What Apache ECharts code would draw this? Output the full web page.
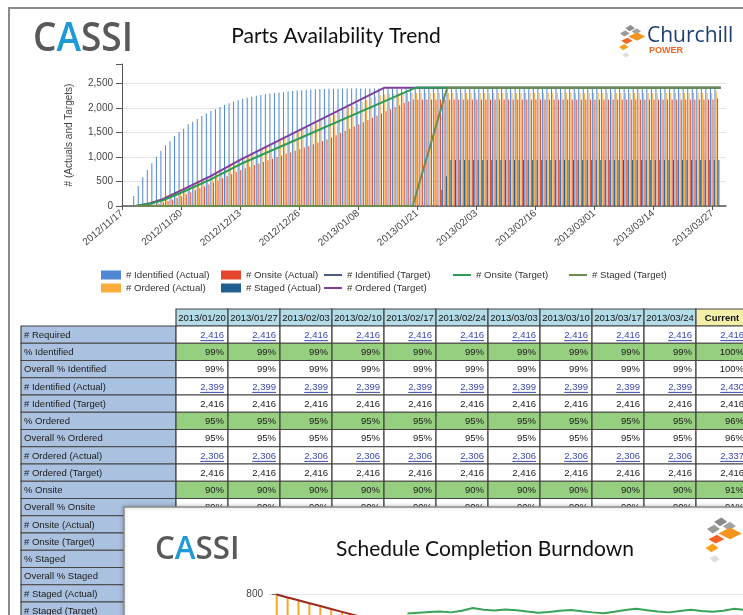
<!DOCTYPE html>
<html>
<head>
<meta charset="utf-8">
<title>Parts Availability Trend</title>
<script src="https://cdn.jsdelivr.net/npm/echarts@6/dist/echarts.min.js"></script>
<style>
  html, body { margin: 0; padding: 0; background: #fff; }
  #chart { width: 743px; height: 615px; }
</style>
</head>
<body>
<div id="chart"></div>
<script>
// x is the day number, day 0 = 2012/11/17 (one bar group per day)
const xTickLabels = ['2012/11/17', '2012/11/30', '2012/12/13', '2012/12/26', '2013/01/08', '2013/01/21',
  '2013/02/03', '2013/02/16', '2013/03/01', '2013/03/14', '2013/03/27']

// actual bars, first value is the day given by the *Start constant
const identifiedStart = 3
const identifiedActual = [
  204, 409, 586, 736, 872, 1008, 1124, 1240, 1321, 1430, 1512, 1580, 1669, 1723, 1778, 1839, 1887, 1941, 1975, 2023,
  2064, 2098, 2132, 2159, 2190, 2210, 2230, 2250, 2268, 2284, 2298, 2310, 2320, 2330, 2340, 2350, 2358, 2365, 2372, 2378,
  2383, 2387, 2391, 2394, 2396, 2397, 2398, 2398, 2399, 2399,
  2399, 2399, 2399, 2399, 2399, 2399, 2399, 2399, 2399, 2399, 2399, 2399, 2399, 2399, 2399, 2399, 2399, 2399, 2399, 2399,
  2399, 2399, 2399, 2399, 2399, 2399, 2399, 2399, 2399, 2399, 2399, 2399, 2399, 2399, 2399, 2399, 2399, 2399, 2399, 2399,
  2399, 2399, 2399, 2399, 2399, 2399, 2399, 2399, 2399, 2399, 2399, 2399, 2399, 2399, 2399, 2399, 2399, 2399, 2399, 2399,
  2399, 2399, 2399, 2399, 2399, 2399, 2399, 2399, 2399, 2399, 2399, 2399, 2399, 2399, 2399, 2399, 2399, 2399, 2430
]
const orderedStart = 4
const orderedActual = [
  15, 40, 70, 105, 140, 180, 220, 260, 300, 340, 385, 430, 475, 520, 565, 610, 655, 700, 745, 790,
  835, 880, 925, 970, 1015, 1060, 1105, 1150, 1195, 1240, 1285, 1330, 1375, 1420, 1465, 1510, 1555, 1600, 1645, 1690,
  1735, 1780, 1825, 1870, 1915, 1960, 2005, 2050, 2090, 2130, 2170, 2205, 2235, 2260, 2280, 2292, 2300, 2304,
  2306, 2306, 2306, 2306, 2306, 2306, 2306, 2306, 2306, 2306, 2306, 2306, 2306, 2306, 2306, 2306, 2306, 2306, 2306, 2306,
  2306, 2306, 2306, 2306, 2306, 2306, 2306, 2306, 2306, 2306, 2306, 2306, 2306, 2306, 2306, 2306, 2306, 2306, 2306, 2306,
  2306, 2306, 2306, 2306, 2306, 2306, 2306, 2306, 2306, 2306, 2306, 2306, 2306, 2306, 2306, 2306, 2306, 2306, 2306, 2306,
  2306, 2306, 2306, 2306, 2306, 2306, 2306, 2306, 2306, 2337
]
const onsiteStart = 6
const onsiteActual = [
  10, 25, 45, 70, 100, 130, 165, 200, 240, 280, 320, 360, 400, 440, 480, 520, 565, 610, 650, 695,
  736, 770, 800, 835, 870, 900, 935, 965, 1000, 1030, 1065, 1095, 1130, 1160, 1195, 1225, 1260, 1290, 1325, 1360,
  1400, 1445, 1490, 1535, 1580, 1625, 1670, 1710, 1755, 1800, 1845, 1890, 1935, 1975, 2020, 2060, 2105, 2140,
  2174, 2174, 2174, 2174, 2174, 2174, 2174, 2174, 2174, 2174, 2174, 2174, 2174, 2174, 2174, 2174, 2174, 2174, 2174, 2174,
  2174, 2174, 2174, 2174, 2174, 2174, 2174, 2174, 2174, 2174, 2174, 2174, 2174, 2174, 2174, 2174, 2174, 2174, 2174, 2174,
  2174, 2174, 2174, 2174, 2174, 2174, 2174, 2174, 2174, 2174, 2174, 2174, 2174, 2174, 2174, 2174, 2174, 2174, 2174, 2174,
  2174, 2174, 2174, 2174, 2174, 2174, 2174, 2199
]
const stagedStart = 70
const stagedActual = [
  330, 610,
  940, 940, 940, 940, 940, 940, 940, 940, 940, 940, 940, 940, 940, 940, 940, 940, 940, 940, 940, 940,
  940, 940, 940, 940, 940, 940, 940, 940, 940, 940, 940, 940, 940, 940, 940, 940, 940, 940, 940, 940,
  940, 940, 940, 940, 940, 940, 940, 940, 940, 940, 940, 940, 940, 940, 940, 940, 940, 940, 940, 940
]

// target lines, [day, value] break points
const identifiedTarget = [[64.7, 2416], [131.8, 2416]]
const orderedTarget = [[3, 0], [6, 50], [9, 140], [13, 320], [19.3, 600], [26, 940], [57.8, 2416], [131.8, 2416]]
const onsiteTarget = [[3, 0], [6, 40], [9, 115], [13, 270], [19.3, 532], [26, 852], [64.7, 2416], [131.8, 2416]]
const stagedTarget = [[3, 0], [64, 0], [71.6, 2416], [131.8, 2416]]

// table under the chart
const tableColumns = ['2013/01/20', '2013/01/27', '2013/02/03', '2013/02/10', '2013/02/17', '2013/02/24',
  '2013/03/03', '2013/03/10', '2013/03/17', '2013/03/24', 'Current']
const rowLabels = ['# Required', '% Identified', 'Overall % Identified', '# Identified (Actual)', '# Identified (Target)',
  '% Ordered', 'Overall % Ordered', '# Ordered (Actual)', '# Ordered (Target)', '% Onsite', 'Overall % Onsite',
  '# Onsite (Actual)', '# Onsite (Target)', '% Staged', 'Overall % Staged', '# Staged (Actual)', '# Staged (Target)']
const rowValues = [
  ['2,416', '2,416', '2,416', '2,416', '2,416', '2,416', '2,416', '2,416', '2,416', '2,416', '2,416'],
  ['99%', '99%', '99%', '99%', '99%', '99%', '99%', '99%', '99%', '99%', '100%'],
  ['99%', '99%', '99%', '99%', '99%', '99%', '99%', '99%', '99%', '99%', '100%'],
  ['2,399', '2,399', '2,399', '2,399', '2,399', '2,399', '2,399', '2,399', '2,399', '2,399', '2,430'],
  ['2,416', '2,416', '2,416', '2,416', '2,416', '2,416', '2,416', '2,416', '2,416', '2,416', '2,416'],
  ['95%', '95%', '95%', '95%', '95%', '95%', '95%', '95%', '95%', '95%', '96%'],
  ['95%', '95%', '95%', '95%', '95%', '95%', '95%', '95%', '95%', '95%', '96%'],
  ['2,306', '2,306', '2,306', '2,306', '2,306', '2,306', '2,306', '2,306', '2,306', '2,306', '2,337'],
  ['2,416', '2,416', '2,416', '2,416', '2,416', '2,416', '2,416', '2,416', '2,416', '2,416', '2,416'],
  ['90%', '90%', '90%', '90%', '90%', '90%', '90%', '90%', '90%', '90%', '91%'],
  ['89%', '90%', '90%', '90%', '90%', '90%', '90%', '90%', '90%', '90%', '91%']
]
const greenRows = [1, 5, 9]
const linkRows = [0, 3, 7]

// second (overlapping) screenshot: schedule completion burndown, x = week index
const burndownPlan = [798, 787, 776, 765, 754, 743, 732, 721, 710, 699]
const burndownActual = [796, 785, 774, 763, 752, 741, 730, 719, 708]
const burndownForecastStart = 12
const burndownForecast = [726, 729, 731, 733, 730, 736, 747, 740, 737, 741, 738, 733, 729, 731, 736, 739, 734,
  730, 727, 732, 739, 744, 738, 733, 730, 735, 740, 735, 732, 736, 744, 739]

const FONT = '"Liberation Sans", Arial, sans-serif'
const COLORS = {
  identified: '#4f87d0', ordered: '#fbac3a', onsite: '#e4472c', staged: '#1f6090',
  identifiedT: '#4d5b86', orderedT: '#7f3f9e', onsiteT: '#2e9b52', stagedT: '#6f8c4f'
}
const CELL_FONT = 9.5

const measureCtx = document.createElement('canvas').getContext('2d')
function textWidth(text, size) {
  measureCtx.font = size + 'px ' + FONT
  return measureCtx.measureText(text).width
}

function toPairs(start, values) {
  return values.map((v, i) => [start + i, v])
}

function barSeries(name, start, values, color) {
  return {
    name, type: 'bar', data: toPairs(start, values),
    barWidth: 0.9, barGap: '30%', itemStyle: { color },
    xAxisIndex: 0, yAxisIndex: 0
  }
}

function lineSeries(name, points, color) {
  return {
    name, type: 'line', data: points, showSymbol: false, symbol: 'none',
    lineStyle: { width: 2, color }, itemStyle: { color },
    xAxisIndex: 0, yAxisIndex: 0
  }
}

function legendColumn(left, names, isLine) {
  return {
    left, top: 269, padding: 0, orient: 'vertical', itemGap: 1, selectedMode: false,
    icon: 'rect', itemWidth: isLine ? 18 : 20, itemHeight: isLine ? 2 : 9,
    textStyle: { fontSize: 9.7, color: '#333', fontFamily: FONT, lineHeight: 12 },
    data: names
  }
}

function txt(x, y, text, font, color, align, z) {
  return {
    type: 'text', x, y, z, silent: true,
    style: {
      text, fill: color, font,
      align, textAlign: align, verticalAlign: 'middle', textVerticalAlign: 'middle'
    }
  }
}

// CASSI logo (grey with a blue A)
function cassiLogo(x, y, size, z) {
  const f = { fontSize: size, fontFamily: '"Open Sans", sans-serif', fontWeight: 600 }
  return {
    type: 'text', x, y, z, scaleX: 0.95, silent: true,
    style: {
      text: '{g|C}{b|A}{g|SSI}', verticalAlign: 'middle', textVerticalAlign: 'middle',
      rich: {
        g: Object.assign({ fill: '#58595b', color: '#58595b' }, f),
        b: Object.assign({ fill: '#1e9ad8', color: '#1e9ad8' }, f)
      }
    }
  }
}

// Churchill mark: small grey / orange tiles
function churchillIcon(x0, y0, s, z) {
  const tiles = [
    [[[7, 4], [12, 1], [16, 4], [11, 7]], '#8b8b8b'],
    [[[13, 7], [18, 4], [22, 7], [17, 10]], '#a3a3a3'],
    [[[2, 9], [7, 6], [11, 9], [6, 12]], '#9a9a9a'],
    [[[10, 12], [18, 8], [26, 12], [18, 16]], '#f7941d'],
    [[[3, 16], [9, 13], [14, 16], [8, 19]], '#f26522'],
    [[[1, 22], [6, 19], [10, 22], [5, 25]], '#f7a21b'],
    [[[4, 29], [8, 27], [11, 30], [7, 32]], '#dedede']
  ]
  return tiles.map(([pts, c]) => ({
    type: 'polygon', z, silent: true,
    shape: { points: pts.map(p => [x0 + p[0] * s, y0 + p[1] * s]) },
    style: { fill: c }
  }))
}

function buildTable() {
  const left = 21, labelRight = 176, colW = 52, headTop = 309, headH = 17, rowTop = 326, rowH = 17.25
  const els = []
  const border = { stroke: '#454545', lineWidth: 1.2 }
  tableColumns.forEach((c, i) => {
    const x = labelRight + i * colW
    const isCur = c === 'Current'
    els.push({ type: 'rect', z: 40, shape: { x, y: headTop, width: colW, height: headH },
      style: Object.assign({ fill: isCur ? '#f4efa8' : '#b3dbe8' }, border) })
    els.push(txt(x + colW / 2, headTop + headH / 2 + 0.5, c, (isCur ? 'bold ' : '') + '9.5px ' + FONT, '#111', 'center', 41))
  })
  rowLabels.forEach((label, r) => {
    const y = rowTop + r * rowH
    els.push({ type: 'rect', z: 40, shape: { x: left, y, width: labelRight - left, height: rowH },
      style: Object.assign({ fill: '#aac1df' }, border) })
    els.push(txt(left + 3, y + rowH / 2 + 0.5, label, CELL_FONT + 'px ' + FONT, '#1a1a1a', 'left', 41))
    const vals = rowValues[r]
    if (!vals) return
    vals.forEach((v, i) => {
      const x = labelRight + i * colW
      const green = greenRows.includes(r)
      const link = linkRows.includes(r)
      els.push({ type: 'rect', z: 40, shape: { x, y, width: colW, height: rowH },
        style: Object.assign({ fill: green ? '#95cf7f' : '#ffffff' }, border) })
      const color = link ? '#3a48ad' : '#1a1a1a'
      const tx = x + colW - 4
      const ty = y + rowH / 2 + 0.5
      els.push(txt(tx, ty, v, CELL_FONT + 'px ' + FONT, color, 'right', 41))
      if (link) {
        const w = textWidth(v, CELL_FONT)
        els.push({ type: 'line', z: 41, silent: true,
          shape: { x1: tx - w, y1: ty + 5.5, x2: tx, y2: ty + 5.5 },
          style: { stroke: color, lineWidth: 1 } })
      }
    })
  })
  return els
}

const graphics = [
  // page frame
  { type: 'line', z: 30, shape: { x1: 8, y1: 8, x2: 743, y2: 8 }, style: { stroke: '#8a8a8a', lineWidth: 2 } },
  { type: 'line', z: 30, shape: { x1: 9, y1: 8, x2: 9, y2: 615 }, style: { stroke: '#8a8a8a', lineWidth: 2 } },
  cassiLogo(33, 40, 39, 30),
  txt(336, 36, 'Parts Availability Trend', '21px Lato, sans-serif', '#111', 'center', 30),
  ...churchillIcon(618, 24, 1.05, 30),
  txt(647, 36, 'Churchill', '21px "Open Sans", sans-serif', '#1d3e6e', 'left', 30),
  txt(649, 51, 'POWER', 'bold 9px "Liberation Sans Narrow", "Liberation Sans", sans-serif', '#f26522', 'left', 30),
  ...buildTable(),
  // overlapping second screenshot
  { type: 'rect', z: 50, shape: { x: 124, y: 507, width: 640, height: 130 },
    style: { fill: '#ffffff', stroke: '#8c8c8c', lineWidth: 1.5, shadowBlur: 4, shadowColor: 'rgba(0,0,0,0.25)' } },
  cassiLogo(155, 550, 33, 51),
  txt(485, 549, 'Schedule Completion Burndown', '21px Lato, sans-serif', '#111', 'center', 51),
  ...churchillIcon(704, 516, 1.45, 51)
]

const option = {
  animation: false,
  backgroundColor: '#ffffff',
  grid: [
    { left: 122, top: 64, width: 604, height: 142 },
    { left: 268, top: 594, width: 480, bottom: 0, z: 60 }
  ],
  xAxis: [
    {
      type: 'value', gridIndex: 0, min: 0, max: 133, interval: 13,
      axisLine: { lineStyle: { color: '#555', width: 1.5 } },
      axisTick: { show: true, length: 4, lineStyle: { color: '#555' } },
      splitLine: { show: false },
      axisLabel: {
        rotate: 40, fontSize: 10, color: '#444', fontFamily: FONT, margin: 6, showMaxLabel: false,
        formatter: v => (v % 13 === 0 ? xTickLabels[v / 13] || '' : '')
      }
    },
    {
      type: 'value', gridIndex: 1, min: -0.8, max: 42.8, z: 60,
      axisLine: { show: false }, axisTick: { show: false }, axisLabel: { show: false }, splitLine: { show: false }
    }
  ],
  yAxis: [
    {
      type: 'value', gridIndex: 0, min: 0, max: 2900, interval: 500,
      name: '# (Actuals and Targets)', nameLocation: 'middle', nameGap: 48, nameRotate: 90,
      nameTextStyle: { fontSize: 10, color: '#444', fontFamily: FONT },
      axisLine: { show: true, lineStyle: { color: '#555' } },
      axisTick: { show: true, length: 6, lineStyle: { color: '#555' } },
      axisLabel: {
        fontSize: 10, color: '#444', fontFamily: FONT, margin: 9,
        formatter: v => (v > 2500 ? '' : v.toLocaleString('en-US'))
      },
      splitLine: { lineStyle: { color: ['#e4e4e4', '#e4e4e4', '#e4e4e4', '#e4e4e4', '#e4e4e4', '#e4e4e4', 'rgba(0,0,0,0)'] } }
    },
    {
      type: 'value', gridIndex: 1, min: 720, max: 800, interval: 80, z: 60,
      axisLine: { show: true, lineStyle: { color: '#666' } },
      axisTick: { show: true, length: 5, lineStyle: { color: '#666' } },
      axisLabel: { fontSize: 10, color: '#444', fontFamily: FONT, margin: 5, formatter: v => (v === 800 ? '800' : '') },
      splitLine: { lineStyle: { color: '#e6e6e6' } }
    }
  ],
  legend: [
    legendColumn(101, ['# Identified (Actual)', '# Ordered (Actual)'], false),
    legendColumn(221, ['# Onsite (Actual)', '# Staged (Actual)'], false),
    legendColumn(324, ['# Identified (Target)', '# Ordered (Target)'], true),
    legendColumn(453, ['# Onsite (Target)'], true),
    legendColumn(569, ['# Staged (Target)'], true)
  ],
  series: [
    barSeries('# Identified (Actual)', identifiedStart, identifiedActual, COLORS.identified),
    barSeries('# Ordered (Actual)', orderedStart, orderedActual, COLORS.ordered),
    barSeries('# Onsite (Actual)', onsiteStart, onsiteActual, COLORS.onsite),
    barSeries('# Staged (Actual)', stagedStart, stagedActual, COLORS.staged),
    lineSeries('# Identified (Target)', identifiedTarget, COLORS.identifiedT),
    lineSeries('# Ordered (Target)', orderedTarget, COLORS.orderedT),
    lineSeries('# Onsite (Target)', onsiteTarget, COLORS.onsiteT),
    lineSeries('# Staged (Target)', stagedTarget, COLORS.stagedT),
    // burndown chart in the overlapping screenshot
    {
      type: 'bar', xAxisIndex: 1, yAxisIndex: 1, z: 61, barWidth: 2,
      data: toPairs(0, burndownActual), itemStyle: { color: '#f7a823' }
    },
    {
      type: 'line', xAxisIndex: 1, yAxisIndex: 1, z: 62, showSymbol: false, symbol: 'none',
      data: toPairs(0, burndownPlan), lineStyle: { width: 2, color: '#9c2a1e' }
    },
    {
      type: 'line', xAxisIndex: 1, yAxisIndex: 1, z: 62, showSymbol: false, symbol: 'none',
      data: toPairs(burndownForecastStart, burndownForecast), lineStyle: { width: 2, color: '#3aa35a' }
    }
  ],
  graphic: graphics
}

const myChart = echarts.init(document.getElementById('chart'), null, { renderer: 'canvas' })
myChart.setOption(option)
window.addEventListener('resize', () => {
  myChart && myChart.resize()
})
</script>
</body>
</html>
